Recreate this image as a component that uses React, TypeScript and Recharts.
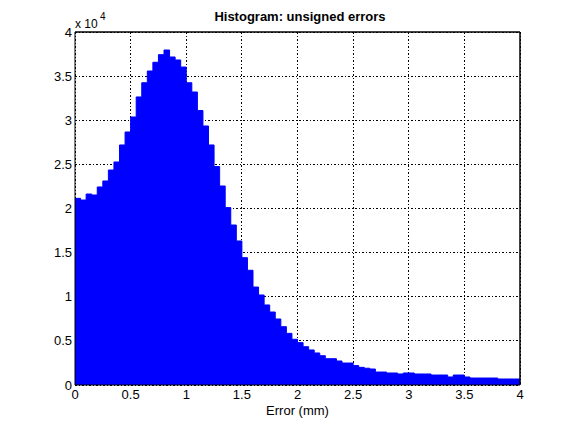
import React from 'react';
import { ComposedChart, Area, XAxis, YAxis, CartesianGrid, ReferenceLine } from 'recharts';

// histogram of unsigned errors, 80 bins of 0.05 mm from 0 to 4 mm
const binWidth = 0.05;
const binCounts = [
  21150, 20960, 21640, 21530, 22440, 23120, 24360, 25270, 27200, 28670,
  30370, 32640, 34250, 35580, 36570, 37430, 37960, 37170, 36830, 36030,
  34250, 33200, 31100, 29350, 27200, 24750, 22550, 20100, 18130, 16320,
  14430, 13000, 11100, 10200, 9070, 8270, 7480, 6610, 5850, 5180,
  4800, 4340, 3970, 3630, 3320, 2980, 2980, 2720, 2490, 2490,
  2200, 2000, 1900, 1810, 1470, 1470, 1360, 1360, 1250, 1360,
  1360, 1250, 1250, 1250, 1130, 1130, 1130, 910, 1130, 1130,
  910, 790, 790, 790, 790, 790, 680, 680, 680, 680,
];
const xTicks = [0, 0.5, 1, 1.5, 2, 2.5, 3, 3.5, 4];
const yTicks = [0, 5000, 10000, 15000, 20000, 25000, 30000, 35000, 40000];

// step area needs one closing point at the right edge of the last bin
const histData = binCounts
  .map((count, i) => ({ edge: +(i * binWidth).toFixed(2), count }))
  .concat([{ edge: 4, count: binCounts[binCounts.length - 1] }]);

const font = '"Liberation Sans", Arial, Helvetica, sans-serif';
const tickStyle = { fontSize: 13, fill: '#000', fontFamily: font };

const App: React.FC = () => {
  return (
    <div style={{ position: 'absolute', left: 0, top: 0, width: 576, height: 432, background: '#fff' }}>
      <ComposedChart
        width={576}
        height={432}
        data={histData}
        margin={{ top: 32, right: 56, bottom: 0, left: 0 }}
      >
        <CartesianGrid
          stroke="#000"
          strokeDasharray="2 2 1 2"
          strokeWidth={1}
          shapeRendering="crispEdges"
          horizontalValues={yTicks}
          verticalValues={xTicks}
        />
        <XAxis
          dataKey="edge"
          type="number"
          domain={[0, 4]}
          ticks={xTicks}
          height={47}
          tickSize={0}
          tickMargin={5}
          tickLine={false}
          axisLine={{ stroke: '#000' }}
          tick={tickStyle}
          label={{ value: 'Error (mm)', position: 'insideBottom', offset: 17, style: { fontSize: 13, fill: '#000', fontFamily: font } }}
        />
        <XAxis
          xAxisId="top"
          orientation="top"
          type="number"
          domain={[0, 4]}
          ticks={xTicks}
          mirror
          tick={false}
          tickSize={5}
          tickLine={{ stroke: '#000' }}
          axisLine={{ stroke: '#000' }}
        />
        <XAxis
          xAxisId="bottomTicks"
          orientation="bottom"
          type="number"
          domain={[0, 4]}
          ticks={xTicks}
          mirror
          tick={false}
          tickSize={5}
          tickLine={{ stroke: '#000' }}
          axisLine={false}
        />
        <YAxis
          type="number"
          domain={[0, 40000]}
          ticks={yTicks}
          width={75}
          tickSize={0}
          tickMargin={3}
          tickLine={false}
          axisLine={{ stroke: '#000' }}
          tick={tickStyle}
          tickFormatter={(v: number) => String(v / 10000)}
        />
        <YAxis
          yAxisId="right"
          orientation="right"
          type="number"
          domain={[0, 40000]}
          ticks={yTicks}
          mirror
          tick={false}
          tickSize={5}
          tickLine={{ stroke: '#000' }}
          axisLine={{ stroke: '#000' }}
        />
        <YAxis
          yAxisId="leftTicks"
          orientation="left"
          type="number"
          domain={[0, 40000]}
          ticks={yTicks}
          mirror
          tick={false}
          tickSize={5}
          tickLine={{ stroke: '#000' }}
          axisLine={false}
        />
        <Area
          type="stepAfter"
          dataKey="count"
          fill="#0000ff"
          fillOpacity={1}
          stroke="#0000ff"
          strokeWidth={1}
          isAnimationActive={false}
          dot={false}
          activeDot={false}
        />
        <ReferenceLine y={40000} stroke="#000" />
        <ReferenceLine x={4} stroke="#000" />
      </ComposedChart>
      <svg
        width={576}
        height={432}
        style={{ position: 'absolute', left: 0, top: 0, pointerEvents: 'none' }}
      >
        <text x={300} y={21} textAnchor="middle" fontFamily={font} fontSize={13} fontWeight="bold" fill="#000">
          Histogram: unsigned errors
        </text>
        <text x={75} y={28} fontFamily={font} fontSize={12} fill="#000">
          x 10
        </text>
        <text x={100} y={20} fontFamily={font} fontSize={10} fill="#000">
          4
        </text>
      </svg>
    </div>
  );
};

export default App;
